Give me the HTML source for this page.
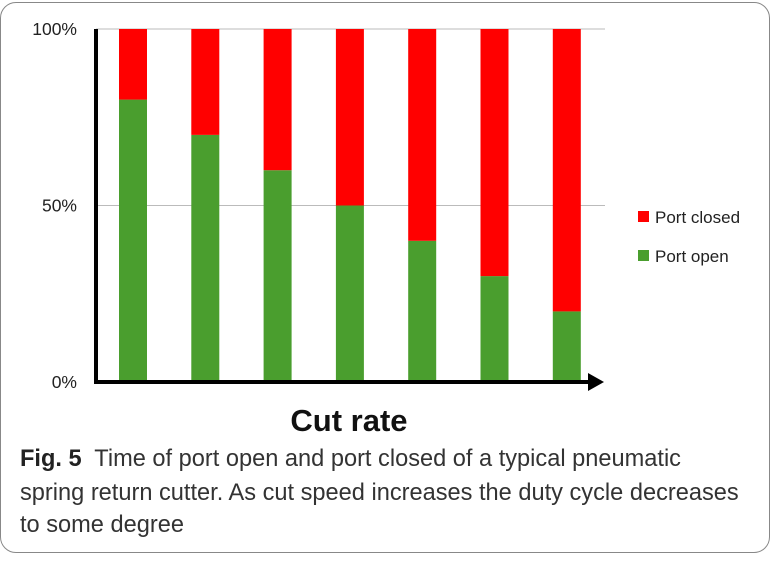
<!DOCTYPE html>
<html><head><meta charset="utf-8"><style>
body{margin:0;background:#fff;width:774px;height:566px;overflow:hidden;font-family:"Liberation Sans",sans-serif}
#frame{position:absolute;left:0;top:2px;width:770px;height:551px;border:1.5px solid #888;border-radius:16px;box-sizing:border-box}
.cap{position:absolute;left:20px;font-size:23.6px;color:#333;white-space:nowrap}
</style></head><body>
<div id="frame"></div>
<svg width="774" height="566" style="position:absolute;left:0;top:0">
<g id="plot"></g>
</svg>
<div class="cap" style="top:446px"><b style="color:#222">Fig. 5</b>&nbsp; Time of port open and port closed of a typical pneumatic</div>
<div class="cap" style="top:480px">spring return cutter. As cut speed increases the duty cycle decreases</div>
<div class="cap" style="top:512px">to some degree</div>
<script>
const categories=["r1","r2","r3","r4","r5","r6","r7"];
const openVals=[80,70,60,50,40,30,20];
const closedVals=[20,30,40,50,60,70,80];
const tickVals=[0,50,100];
const tickLabels=["0%","50%","100%"];
const NS="http://www.w3.org/2000/svg";
const g=document.getElementById('plot');
const y0=382,y1=29,xL=96,xR=605;
const y=v=>y0-(v/100)*(y0-y1);
const x=i=>133+i*72.3;
function mk(t,a){const e=document.createElementNS(NS,t);for(const k in a)e.setAttribute(k,a[k]);g.appendChild(e);return e;}
tickVals.forEach((v,i)=>{
 if(v>0){const l=mk('line',{x1:xL,x2:xR,y1:y(v),y2:y(v),stroke:'#bbb','stroke-width':1});
 
 }
 const t=mk('text',{x:77,y:y(v)+6,'text-anchor':'end','font-size':17.5,fill:'#222'});t.textContent=tickLabels[i];
 
 
});
categories.forEach((c,i)=>{
 const o=mk('rect',{x:x(i)-14,y:y(openVals[i]),width:28,height:y0-y(openVals[i]),fill:'#4a9e2e'});
 
 
 const r=mk('rect',{x:x(i)-14,y:y(openVals[i]+closedVals[i]),width:28,height:y(openVals[i])-y(openVals[i]+closedVals[i]),fill:'#ff0000'});
 
 
});
const ya=mk('line',{x1:xL,x2:xL,y1:29,y2:384,stroke:'#000','stroke-width':4});


const xa=mk('line',{x1:94,x2:590,y1:y0,y2:y0,stroke:'#000','stroke-width':4});


const ar=mk('polygon',{points:'588,373 604,382 588,391',fill:'#000'});


const xt=mk('text',{x:349,y:431,'text-anchor':'middle','font-size':31,'font-weight':'bold',fill:'#111'});xt.textContent='Cut rate';


[['Port closed','#ff0000',217],['Port open','#4a9e2e',256]].forEach(([n,col,yy])=>{
 const s=mk('rect',{x:638,y:yy-6,width:11,height:11,fill:col});
 
 
 const t=mk('text',{x:655,y:yy+6,'font-size':17,fill:'#222'});t.textContent=n;
 
 
});
</script>
</body></html>
